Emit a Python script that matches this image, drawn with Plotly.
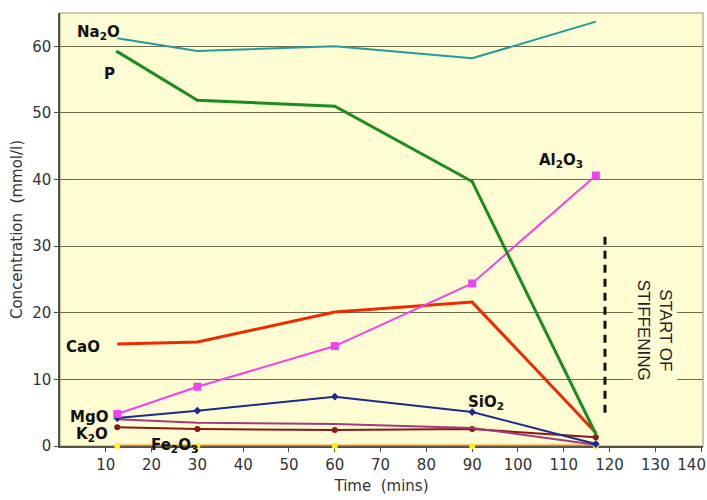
import plotly.graph_objects as go

time = [12.5, 30, 60, 90, 117]
na2o = [61.2, 59.3, 60.0, 58.2, 63.7]
p = [59.2, 51.9, 51.0, 39.7, 1.8]
al2o3 = [4.8, 8.9, 15.0, 24.4, 40.6]
cao = [15.3, 15.6, 20.1, 21.6, 2.0]
sio2 = [4.2, 5.3, 7.4, 5.1, 0.3]
mgo = [4.0, 3.5, 3.3, 2.7, 0.2]
k2o = [2.8, 2.55, 2.4, 2.55, 1.3]
fe2o3 = [0.0, 0.0, 0.0, 0.0, 0.0]

x_ticks = [10, 20, 30, 40, 50, 60, 70, 80, 90, 100, 110, 120, 130, 140]
x_ticktext = ["10", "20", "30", "40", "50", "60", "70", "80", "90", "100", "110", "120", "130",
              "140\u00a0\u00a0\u00a0\u00a0"]
y_ticks = [0, 10, 20, 30, 40, 50, 60]
stiffening_time = 119
stiffening_span = [5, 31.5]

fig = go.Figure()

def add(y, color, width, symbol, msize, mcolor=None):
    fig.add_trace(go.Scatter(
        x=time, y=y, mode="lines+markers",
        line=dict(color=color, width=width),
        marker=dict(symbol=symbol, size=msize, color=mcolor or color),
        showlegend=False, cliponaxis=False))

add(fe2o3, "#ff8a00", 3, "circle", 6, "#ffee22")
add(k2o, "#8b1818", 2, "circle", 6)
add(mgo, "#a33a7c", 2, "line-ns", 8)
add(sio2, "#1c2a8e", 2, "diamond", 6)
add(cao, "#ee2a00", 3, "line-ns", 6, "#7fd8c8")
add(al2o3, "#ee44ee", 2, "square", 8)
add(p, "#1b8c1e", 3, "circle", 3)
add(na2o, "#249a9c", 2, "cross-thin", 7)

fig.add_trace(go.Scatter(
    x=[stiffening_time, stiffening_time], y=stiffening_span, mode="lines",
    line=dict(color="#111111", width=3, dash="8px,6px"), showlegend=False))

lab = dict(size=15, color="#111111", family="DejaVu Sans")
labels = [
    ("Na<sub>2</sub>O", 8.4, 62.1, "center"),
    ("P", 10.9, 55.8, "center"),
    ("Al<sub>2</sub>O<sub>3</sub>", 109.5, 42.8, "center"),
    ("CaO", 5.0, 14.9, "center"),
    ("SiO<sub>2</sub>", 93, 6.6, "center"),
    ("MgO", 11.0, 4.4, "right"),
    ("K<sub>2</sub>O", 11.0, 1.8, "right"),
    ("Fe<sub>2</sub>O<sub>3</sub>", 25, 0.05, "center"),
]
for t, x, y, al in labels:
    fig.add_annotation(x=x, y=y, text="<b>" + t + "</b>", showarrow=False,
                       font=lab, xanchor=al, yanchor="middle")

fig.add_annotation(x=130, y=17.4, text="START OF<br>STIFFENING", showarrow=False,
                   textangle=90, font=dict(size=17, color="#222222", family="Liberation Sans, Arial"),
                   bgcolor="#fefcd2")

fig.add_shape(type="rect", xref="paper", yref="paper", x0=0, y0=0, x1=1, y1=1,
              line=dict(color="#b8b69c", width=1.5), layer="below")

fig.update_layout(
    width=707, height=500,
    margin=dict(l=60, r=4, t=13, b=54, autoexpand=False),
    paper_bgcolor="white", plot_bgcolor="#fefcd2",
    font=dict(family="DejaVu Sans", color="#333333", size=15),
    xaxis=dict(range=[0, 140.4], tickvals=x_ticks, ticktext=x_ticktext, automargin=False,
               ticklabeloverflow="allow", showgrid=False, zeroline=False,
               showline=True, linecolor="#555544", linewidth=1.5, layer="below traces",
               ticks="outside", ticklen=4, tickcolor="#555544",
               title=dict(text="Time  (mins)", standoff=8, font=dict(size=15))),
    yaxis=dict(range=[0, 65], tickvals=y_ticks, showgrid=True, gridcolor="#6e6a4a",
               gridwidth=1, zeroline=False, layer="below traces", automargin=False,
               showline=True, linecolor="#555544", linewidth=1.5,
               ticks="outside", ticklen=4, tickcolor="#555544",
               title=dict(text="Concentration  (mmol/l)", standoff=6, font=dict(size=15))),
)

fig.write_html("out.html")
